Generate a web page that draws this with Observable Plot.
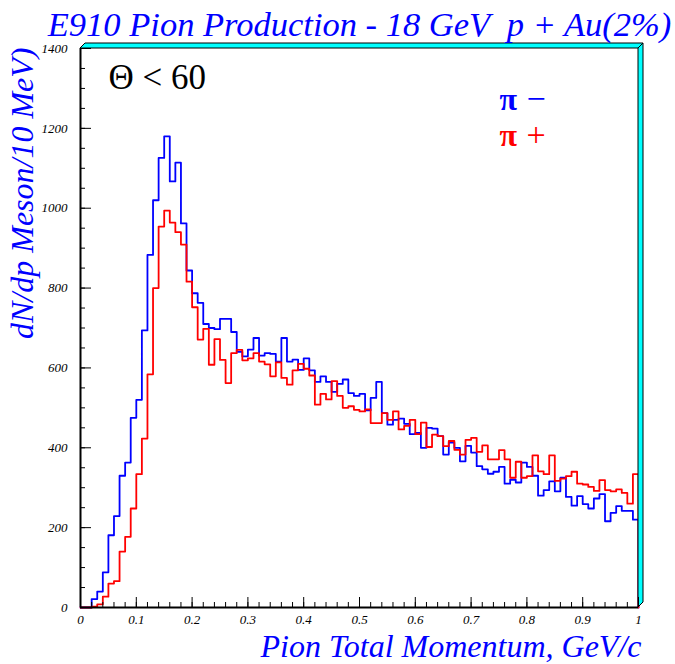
<!DOCTYPE html>
<html><head><meta charset="utf-8">
<script src="https://cdn.jsdelivr.net/npm/d3@7"></script>
<script src="https://cdn.jsdelivr.net/npm/@observablehq/plot@0.6"></script>
<style>body{margin:0;background:#fff}</style>
</head><body><div id="chart"></div>
<script>
// 100 bins of 10 MeV from 0 to 1 GeV/c
const piMinus = [0,0,21,40,88,181,229,330,363,475,
  520,694,883,1020,1126,1180,1067,1114,962,844,
  787,763,710,700,697,723,723,690,640,629,
  646,675,631,637,635,616,675,616,621,595,
  624,594,565,579,565,540,560,571,537,530,
  535,494,525,565,487,458,470,473,460,434,
  437,400,450,448,429,383,413,400,366,405,
  388,354,346,335,340,352,310,320,313,363,
  352,330,280,294,316,291,325,277,255,279,
  259,248,273,284,216,237,254,242,242,220];
const piPlus = [0,0,2,8,27,60,66,140,177,248,
  334,423,584,800,954,994,964,940,909,816,
  752,671,698,608,672,620,562,637,645,619,
  624,637,616,609,579,614,575,558,594,610,
  598,581,508,535,521,567,530,500,504,495,
  491,496,462,462,487,470,491,446,455,470,
  434,463,402,433,429,404,417,395,383,420,
  425,390,406,371,371,394,371,325,365,325,
  329,381,341,334,381,317,323,329,340,310,
  308,302,292,319,294,291,296,287,260,334];
const binWidth = 0.01;
const seriesSymbols = ["π", "π"];
const seriesSigns = ["−", "+"];
const seriesColors = ["#0000ff", "#ff0000"];
const yMajorTicks = [0,200,400,600,800,1000,1200,1400];
const yMinorTicks = [0,50,100,150,200,250,300,350,400,450,500,550,600,650,700,750,800,850,900,950,1000,1050,1100,1150,1200,1250,1300,1350,1400];
const xMajorTicks = [0,0.1,0.2,0.3,0.4,0.5,0.6,0.7,0.8,0.9,1];
const xTickLabels = ["0","0.1","0.2","0.3","0.4","0.5","0.6","0.7","0.8","0.9","1"];
const xMinorTicks = [0,0.02,0.04,0.06,0.08,0.1,0.12,0.14,0.16,0.18,0.2,0.22,0.24,0.26,0.28,0.3,0.32,0.34,0.36,0.38,0.4,0.42,0.44,0.46,0.48,0.5,0.52,0.54,0.56,0.58,0.6,0.62,0.64,0.66,0.68,0.7,0.72,0.74,0.76,0.78,0.8,0.82,0.84,0.86,0.88,0.9,0.92,0.94,0.96,0.98,1];
const titleText = "E910 Pion Production - 18 GeV  p + Au(2%)";
const xLabel = "Pion Total Momentum, GeV/c";
const yLabel = "dN/dp Meson/10 MeV)";
const cutLabel = "Θ < 60";

function steps(values) {
  const pts = values.map((v, i) => ({x: i * binWidth, y: v}));
  pts.push({x: values.length * binWidth, y: values[values.length - 1]});
  pts.push({x: values.length * binWidth, y: 0});
  return pts;
}

const W = 675, H = 664, mL = 80, mR = 37, mT = 48, mB = 57;
const fw = W - mL - mR, fh = H - mT - mB;
const serif = "Liberation Serif, Times New Roman, serif";

function frame3d(index, scales) {
  const x0 = scales.x(0), x1 = scales.x(1), y0 = scales.y(0), y1 = scales.y(1400), d = 5;
  const g = d3.create("svg:g").attr("fill", "#00ffff").attr("stroke", "black").attr("stroke-width", 1).attr("stroke-linejoin", "miter");
  g.append("polygon").attr("points", [[x0, y1], [x0 + d, y1 - d], [x1 + d, y1 - d], [x1, y1]].join(" "));
  g.append("polygon").attr("points", [[x1, y1], [x1 + d, y1 - d], [x1 + d, y0 - d], [x1, y0]].join(" "));
  return g.node();
}

const legendText = (arr, i, opts) => Plot.text(arr.slice(i, i + 1), {
  text: d => d, frameAnchor: "top-right", textAnchor: "start", lineAnchor: "bottom",
  fontFamily: serif, fill: seriesColors[i], ...opts
});

const plot = Plot.plot({
  width: W, height: H,
  marginLeft: mL, marginRight: mR, marginTop: mT, marginBottom: mB,
  x: {domain: [0, 1], axis: null},
  y: {domain: [0, 1400], axis: null},
  style: {background: "white", overflow: "visible"},
  marks: [
    Plot.line(steps(piMinus), {x: "x", y: "y", curve: "step-after", stroke: seriesColors[0], strokeWidth: 1.8}),
    Plot.line(steps(piPlus), {x: "x", y: "y", curve: "step-after", stroke: seriesColors[1], strokeWidth: 1.8}),
    frame3d,
    Plot.ruleX([0], {stroke: "black", strokeWidth: 2}),
    Plot.ruleY([0], {stroke: "black", strokeWidth: 2}),
    Plot.tickY(yMinorTicks, {y: d => d, insetRight: fw - 5, stroke: "black"}),
    Plot.tickY(yMajorTicks, {y: d => d, insetRight: fw - 11, stroke: "black"}),
    Plot.tickX(xMinorTicks, {x: d => d, insetTop: fh - 5, stroke: "black"}),
    Plot.tickX(xMajorTicks, {x: d => d, insetTop: fh - 10, stroke: "black"}),
    Plot.text(yMajorTicks, {y: d => d, text: d => String(d), frameAnchor: "left", dx: -13, textAnchor: "end", fontFamily: serif, fontStyle: "italic", fontSize: 13, fill: "black"}),
    Plot.text(xMajorTicks, {x: d => d, text: (d, i) => xTickLabels[i], frameAnchor: "bottom", dy: 16, fontFamily: serif, fontStyle: "italic", fontSize: 13, fill: "black"}),
    Plot.text([titleText], {text: d => d, frameAnchor: "top", dy: -13, dx: 0, lineAnchor: "bottom", fontFamily: serif, fontStyle: "italic", fontSize: 34.5, fill: "#0000ff"}),
    Plot.text([xLabel], {text: d => d, frameAnchor: "bottom-right", dx: 3, dy: 49, lineAnchor: "bottom", textAnchor: "end", fontFamily: serif, fontStyle: "italic", fontSize: 32, fill: "#0000ff"}),
    Plot.text([yLabel], {text: d => d, frameAnchor: "top-left", rotate: -90, dx: -58, dy: -1, textAnchor: "end", lineAnchor: "middle", fontFamily: serif, fontStyle: "italic", fontSize: 32, fill: "#0000ff"}),
    Plot.text([cutLabel], {text: d => d, frameAnchor: "top-left", dx: 28, dy: 40, textAnchor: "start", lineAnchor: "bottom", fontFamily: serif, fontSize: 35, fill: "black"}),
    legendText(seriesSymbols, 0, {dx: -139, dy: 61, fontWeight: "bold", fontSize: 32}),
    legendText(seriesSymbols, 1, {dx: -139, dy: 97, fontWeight: "bold", fontSize: 32}),
    legendText(seriesSigns, 0, {dx: -112, dy: 61, fontSize: 34}),
    legendText(seriesSigns, 1, {dx: -112, dy: 97, fontSize: 34})
  ]
});
document.getElementById("chart").appendChild(plot);
</script>
</body></html>
